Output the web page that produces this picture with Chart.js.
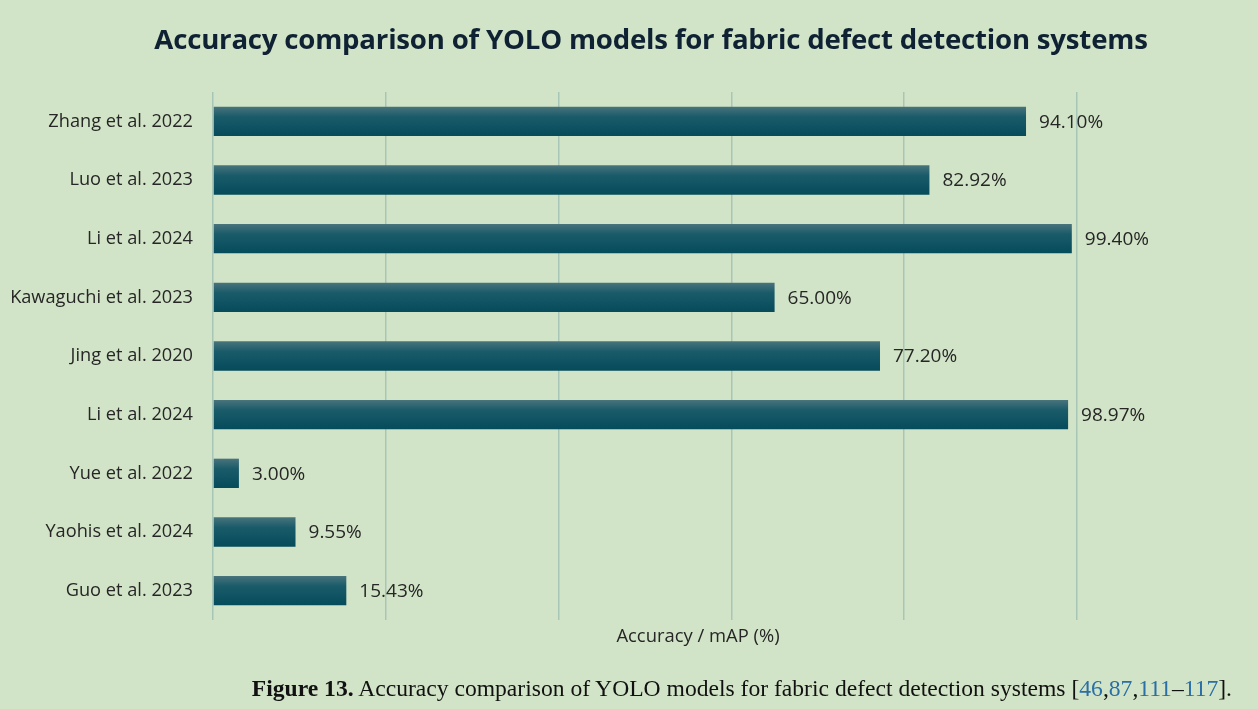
<!DOCTYPE html>
<html>
<head>
<meta charset="utf-8">
<script src="https://cdn.jsdelivr.net/npm/chart.js@4"></script>
<style>
html,body{margin:0;padding:0;background:#d2e4c7;}
#wrap{position:relative;width:1258px;height:709px;overflow:hidden;background:#d2e4c7;}
#c{position:absolute;left:0;top:0;}
#title{position:absolute;left:0;width:1302px;top:18px;text-align:center;font-family:"Open Sans",Lato,sans-serif;font-weight:bold;font-size:27.6px;color:#0f2233;line-height:40px;white-space:nowrap;letter-spacing:-0.2px;}
#caption{position:absolute;right:26px;top:675px;font-family:"Liberation Serif",serif;font-size:23.6px;color:#111;white-space:nowrap;}
#caption a{color:#2a6fa6;text-decoration:none;}
</style>
</head>
<body>
<div id="wrap">
<canvas id="c" width="1258" height="709"></canvas>
<div id="title">Accuracy comparison of YOLO models for fabric defect detection systems</div>
<div id="caption"><b>Figure 13.</b> Accuracy comparison of YOLO models for fabric defect detection systems [<a>46</a>,<a>87</a>,<a>111</a>–<a>117</a>].</div>
</div>
<script>
const categories = ["Zhang et al. 2022","Luo et al. 2023","Li et al. 2024","Kawaguchi et al. 2023","Jing et al. 2020","Li et al. 2024","Yue et al. 2022","Yaohis et al. 2024","Guo et al. 2023"];
const accuracy = [94.10, 82.92, 99.40, 65.00, 77.20, 98.97, 3.00, 9.55, 15.43];
const axisTitle = "Accuracy / mAP (%)";
const FONT = '"Open Sans", Lato, sans-serif';

function barGradient(ctx){
  const chart = ctx.chart;
  const y = chart.scales && chart.scales.y;
  if (!y || !chart.chartArea || ctx.dataIndex === undefined) return '#0b5161';
  const cy = y.getPixelForValue(ctx.dataIndex);
  const h = 15;
  const g = chart.ctx.createLinearGradient(0, cy - h, 0, cy + h);
  g.addColorStop(0, '#4a757d');
  g.addColorStop(0.35, '#1a5b69');
  g.addColorStop(1, '#054b5b');
  return g;
}

const valueLabels = {
  id: 'valueLabels',
  afterDatasetsDraw(chart){
    const c = chart.ctx;
    const meta = chart.getDatasetMeta(0);
    c.save();
    c.font = '19px ' + FONT;
    c.fillStyle = '#262626';
    c.textAlign = 'left';
    c.textBaseline = 'middle';
    meta.data.forEach((bar, i) => {
      c.fillText(accuracy[i].toFixed(2) + '%', bar.x + 13, bar.y + 1);
    });
    c.font = '18.4px ' + FONT;
    c.textAlign = 'center';
    c.fillText(axisTitle, 698, 637);
    c.restore();
  }
};

new Chart(document.getElementById('c'), {
  type: 'bar',
  data: {
    labels: categories,
    datasets: [{
      data: accuracy,
      backgroundColor: barGradient,
      borderWidth: 0,
      categoryPercentage: 1,
      barPercentage: 0.5
    }]
  },
  options: {
    indexAxis: 'y',
    responsive: false,
    animation: false,
    layout: { padding: { top: 92, right: 181, bottom: 62, left: 0 } },
    plugins: { legend: { display: false }, tooltip: { enabled: false } },
    scales: {
      x: {
        min: 0, max: 100,
        ticks: { display: false, stepSize: 20 },
        grid: { color: '#a8c6b8', lineWidth: 1.5, drawTicks: false },
        border: { display: false },
        title: { display: false, text: axisTitle },
        afterFit(s){ s.height = 27; }
      },
      y: {
        ticks: { color: '#262626', font: { family: FONT, size: 18.2 }, padding: 20 },
        grid: { display: false, drawTicks: false },
        border: { display: false },
        afterFit(s){ s.width = 213; }
      }
    }
  },
  plugins: [valueLabels]
});
</script>
</body>
</html>
